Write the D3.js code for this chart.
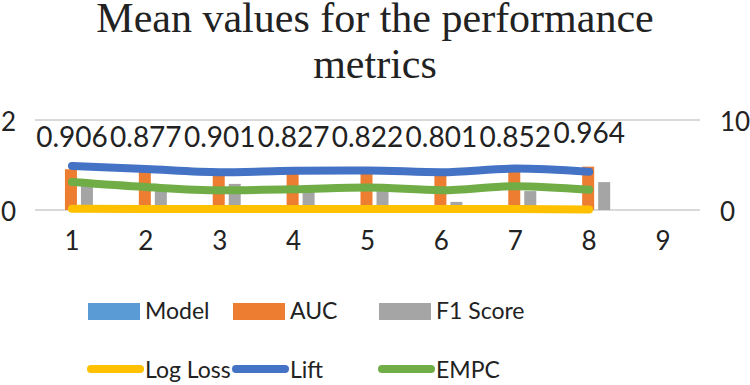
<!DOCTYPE html>
<html>
<head>
<meta charset="utf-8">
<script src="https://cdn.jsdelivr.net/npm/d3@7"></script>
<style>
  body { margin: 0; background: #fff; }
  svg { display: block; }
  .tick text { font-family: Lato, sans-serif; fill: #222; }
</style>
</head>
<body>
<div class="container"></div>
<script>
let categories = ['1', '2', '3', '4', '5', '6', '7', '8', '9']
let barSeries = ['Model', 'AUC', 'F1 Score']
let lineSeries = ['Log Loss', 'Lift', 'EMPC']

let model = [0, 0, 0, 0, 0, 0, 0, 0]
let auc = [0.906, 0.877, 0.901, 0.827, 0.822, 0.801, 0.852, 0.964]
let f1 = [0.55, 0.44, 0.58, 0.42, 0.42, 0.18, 0.42, 0.62]
let logLoss = [0.15, 0.12, 0.12, 0.12, 0.12, 0.12, 0.12, 0.06]
let lift = [4.9, 4.55, 4.2, 4.35, 4.4, 4.2, 4.6, 4.25]
let empc = [3.1, 2.55, 2.2, 2.3, 2.5, 2.2, 2.65, 2.25]

let leftTicks = [0, 2]
let rightTicks = [0, 10]

let colors = {
    'Model': '#5b9bd5',
    'AUC': '#ed7d31',
    'F1 Score': '#a5a5a5',
    'Log Loss': '#ffc000',
    'Lift': '#4472c4',
    'EMPC': '#70ad47'
}

let width = 750
let height = 385
let plot = { left: 35, right: 700, top: 120, bottom: 210 }

let svg = d3.select('.container')
    .append('svg')
    .attr('width', width)
    .attr('height', height)

let xScale = d3.scaleBand()
    .domain(categories)
    .range([plot.left, plot.right])

let xInner = d3.scaleBand()
    .domain(barSeries)
    .range([-25, 23])
    .paddingInner(0.25)
    .paddingOuter(0.125)

let yLeft = d3.scaleLinear().domain([0, 2]).range([plot.bottom, plot.top])
let yRight = d3.scaleLinear().domain([0, 10]).range([plot.bottom, plot.top])

// title
svg.append('text')
    .attr('x', width / 2)
    .attr('text-anchor', 'middle')
    .style('font-family', '"Liberation Serif", "Times New Roman", serif')
    .style('font-size', '42px')
    .style('fill', '#222')
    .selectAll('tspan')
    .data(['Mean values for the performance', 'metrics'])
    .enter()
    .append('tspan')
    .attr('x', width / 2)
    .attr('y', (d, i) => 32 + i * 46)
    .text(d => d)

// gridlines
svg.append('g')
    .selectAll('line')
    .data(leftTicks)
    .enter()
    .append('line')
    .attr('x1', plot.left)
    .attr('x2', plot.right)
    .attr('y1', d => yLeft(d))
    .attr('y2', d => yLeft(d))
    .attr('stroke', '#d9d9d9')
    .attr('stroke-width', 2)

// bars
let barData = []
categories.slice(0, 8).forEach((c, i) => {
    barData.push({ cat: c, key: 'Model', value: model[i] })
    barData.push({ cat: c, key: 'AUC', value: auc[i] })
    barData.push({ cat: c, key: 'F1 Score', value: f1[i] })
})

svg.append('g')
    .selectAll('rect')
    .data(barData)
    .enter()
    .append('rect')
    .attr('x', d => xScale(d.cat) + xScale.bandwidth() / 2 + xInner(d.key))
    .attr('width', xInner.bandwidth())
    .attr('y', d => yLeft(d.value))
    .attr('height', d => yLeft(0) - yLeft(d.value))
    .attr('fill', d => colors[d.key])

// lines on the secondary axis
let lineValues = { 'Log Loss': logLoss, 'Lift': lift, 'EMPC': empc }
let line = d3.line()
    .x((d, i) => xScale(categories[i]) + xScale.bandwidth() / 2)
    .y(d => yRight(d))
    .curve(d3.curveMonotoneX)

svg.append('g')
    .selectAll('path')
    .data(lineSeries)
    .enter()
    .append('path')
    .attr('d', d => line(lineValues[d]))
    .attr('fill', 'none')
    .attr('stroke', d => colors[d])
    .attr('stroke-width', 8)
    .attr('stroke-linecap', 'round')
    .attr('stroke-linejoin', 'round')

// AUC data labels
svg.append('g')
    .selectAll('text')
    .data(auc)
    .enter()
    .append('text')
    .attr('x', (d, i) => xScale(categories[i]) + xScale.bandwidth() / 2)
    .attr('y', (d, i) => i === 7 ? yLeft(1.48) : yLeft(1.4))
    .attr('text-anchor', 'middle')
    .style('font-family', 'Lato, sans-serif')
    .style('font-size', '28px')
    .style('fill', '#222')
    .text(d => d3.format('.3f')(d))

// axes
let xAxis = d3.axisBottom(xScale).tickSize(0).tickPadding(0)
svg.append('g')
    .attr('transform', `translate(0,${232})`)
    .call(xAxis)
    .call(g => g.select('.domain').remove())
    .selectAll('text')
    .style('font-size', '26px')
    .attr('dy', '0.71em')

svg.append('g')
    .attr('transform', `translate(${16},2)`)
    .call(d3.axisLeft(yLeft).tickValues(leftTicks).tickFormat(d3.format('d')).tickSize(0).tickPadding(0))
    .call(g => g.select('.domain').remove())
    .selectAll('text')
    .style('font-size', '26px')

svg.append('g')
    .attr('transform', `translate(${720},2)`)
    .call(d3.axisRight(yRight).tickValues(rightTicks).tickFormat(d3.format('d')).tickSize(0).tickPadding(0))
    .call(g => g.select('.domain').remove())
    .selectAll('text')
    .style('font-size', '26px')

// legend
let legendX = [88, 233, 379]
let legend = svg.append('g')
    .style('font-family', 'Lato, sans-serif')
    .style('font-size', '23px')
    .style('fill', '#222')

barSeries.forEach((s, i) => {
    legend.append('rect')
        .attr('x', legendX[i])
        .attr('y', 303)
        .attr('width', 52)
        .attr('height', 17)
        .attr('fill', colors[s])
    legend.append('text')
        .attr('x', legendX[i] + 57)
        .attr('y', 319)
        .text(s)
})

lineSeries.forEach((s, i) => {
    legend.append('line')
        .attr('x1', legendX[i] + 3)
        .attr('x2', legendX[i] + 52)
        .attr('y1', 369)
        .attr('y2', 369)
        .attr('stroke', colors[s])
        .attr('stroke-width', 8)
        .attr('stroke-linecap', 'round')
    legend.append('text')
        .attr('x', legendX[i] + 57)
        .attr('y', 378)
        .text(s)
})
</script>
</body>
</html>
